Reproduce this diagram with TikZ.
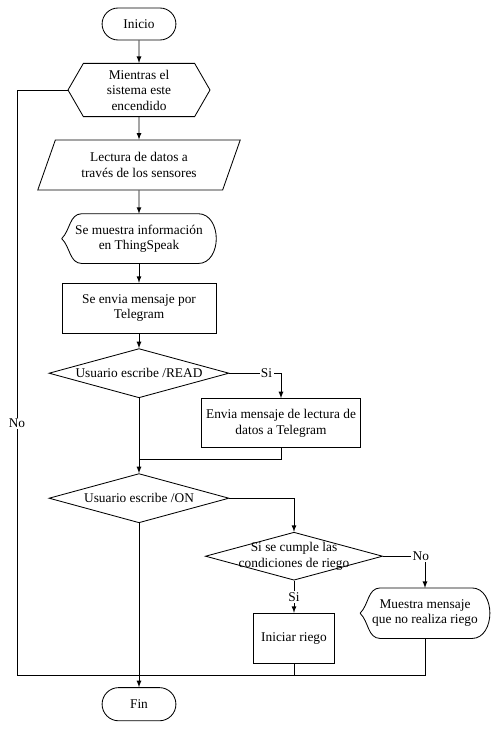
\documentclass[tikz,border=0pt]{standalone}
\usepackage{fontspec}
\setmainfont{LiberationSerif}[Extension=.ttf,UprightFont=*-Regular,BoldFont=*-Bold,ItalicFont=*-Italic,BoldItalicFont=*-BoldItalic]
\usetikzlibrary{shapes.geometric,shapes.misc,shapes.symbols}

\begin{document}
\begin{tikzpicture}

		\tikzstyle{every node}=[font=\fontsize{9.5}{11}\selectfont]
		\tikzstyle{terminal}=[rounded rectangle,draw=black,semithick,
			minimum height=0.8cm,minimum width=2.08cm]
		\tikzstyle{loopcond}=[signal,signal to=west and east,signal pointer angle=120,
			draw=black,semithick,minimum height=1.33cm,minimum width=3.55cm,
			inner sep=0pt,align=center]
		\tikzstyle{inputbox}=[trapezium,trapezium left angle=64,trapezium right angle=116,
			trapezium stretches=true,draw=black,semithick,
			minimum height=1.25cm,minimum width=5.1cm,inner sep=0pt,align=center]
		\tikzstyle{process}=[rectangle,draw=black,semithick,
			minimum height=1.25cm,minimum width=3.85cm,align=center]
		\tikzstyle{decision}=[diamond,draw=black,semithick,aspect=3.7,
			minimum height=1.23cm,minimum width=4.5cm,inner sep=0pt,align=center]
		\tikzstyle{screen}=[rectangle,minimum width=3.85cm,minimum height=1.23cm,
			inner sep=0pt,align=center,
			append after command={\pgfextra{\draw[semithick]
				(\tikzlastnode.west) to[out=45,in=182] ([xshift=0.5cm]\tikzlastnode.north west)
				-- ([xshift=-0.45cm]\tikzlastnode.north east) to[out=0,in=90] (\tikzlastnode.east)
				to[out=-90,in=0] ([xshift=-0.45cm]\tikzlastnode.south east)
				-- ([xshift=0.5cm]\tikzlastnode.south west) to[out=178,in=-45] (\tikzlastnode.west);}}]
		\tikzstyle{flow}=[->,>=latex,semithick]

		\useasboundingbox (0,0) rectangle (12.5,-18.45);

		\node[terminal]	(inicio) at (3.475,-0.6)	{Inicio};
		\node[loopcond,below of=inicio,node distance=1.65cm]	(mientras)	{Mientras el\\sistema este\\encendido};
		\node[inputbox,below of=mientras,node distance=1.875cm]	(lectura)	{Lectura de datos a\\través de los sensores};
		\node[screen,below of=lectura,node distance=1.84cm]	(info)	{Se muestra información\\en ThingSpeak};
		\node[process,below of=info,node distance=1.74cm]	(envio)	{Se envia mensaje por\\Telegram};
		\node[decision,below of=envio,node distance=1.625cm]	(read)	{Usuario escribe /READ};
		\node[process,below of=read,node distance=1.25cm,xshift=3.55cm,minimum width=3.88cm,minimum height=1.23cm]	(msgread)	{Envia mensaje de lectura de\\datos a Telegram};
		\node[decision,below of=read,node distance=3.125cm]	(on)	{Usuario escribe /ON};
		\node[decision,below of=on,node distance=1.45cm,xshift=3.875cm,minimum width=4.43cm,minimum height=1.2cm,inner ysep=-1.5mm]	(cond)	{Si se cumple las\\condiciones de riego};
		\node[process,below of=cond,node distance=2.05cm,minimum width=2.03cm]	(riego)	{Iniciar riego};
		\node[screen,below of=cond,node distance=1.425cm,xshift=3.275cm,minimum width=3.23cm,minimum height=1.25cm]	(muestra)	{Muestra mensaje\\que no realiza riego};
		\node[terminal,below of=on,node distance=5.15cm,minimum height=0.83cm]	(fin)	{Fin};

		\coordinate[below of=read,node distance=2.15cm]	(readjoin);
		\coordinate	(loopend) at (0.425,-16.875);

		\draw[flow] (inicio) -- (mientras);
		\draw[flow] (mientras) -- (lectura);
		\draw[flow] (lectura) -- (info);
		\draw[flow] (info) -- (envio);
		\draw[flow] (envio) -- (read);

		\draw[flow] (read.east) -| node[pos=0.36,fill=white,inner sep=1pt]{Si} (msgread.north);
		\draw[semithick] (msgread.south) |- (readjoin);
		\draw[flow] (read.south) -- (on.north);

		\draw[flow] (on.east) -| (cond.north);
		\draw[flow] (cond.east) -| node[pos=0.45,fill=white,inner sep=1pt]{No} (muestra.north);
		\draw[flow] (cond.south) -- node[fill=white,inner sep=1pt]{Si} (riego.north);

		\draw[semithick] (mientras.west) -| node[pos=0.785,fill=white,inner sep=1pt]{No} (loopend) -| (muestra.south);
		\draw[semithick] (riego.south) -- (riego.south |- loopend);
		\draw[flow] (on.south) -- (fin.north);

	\end{tikzpicture}
\end{document}
